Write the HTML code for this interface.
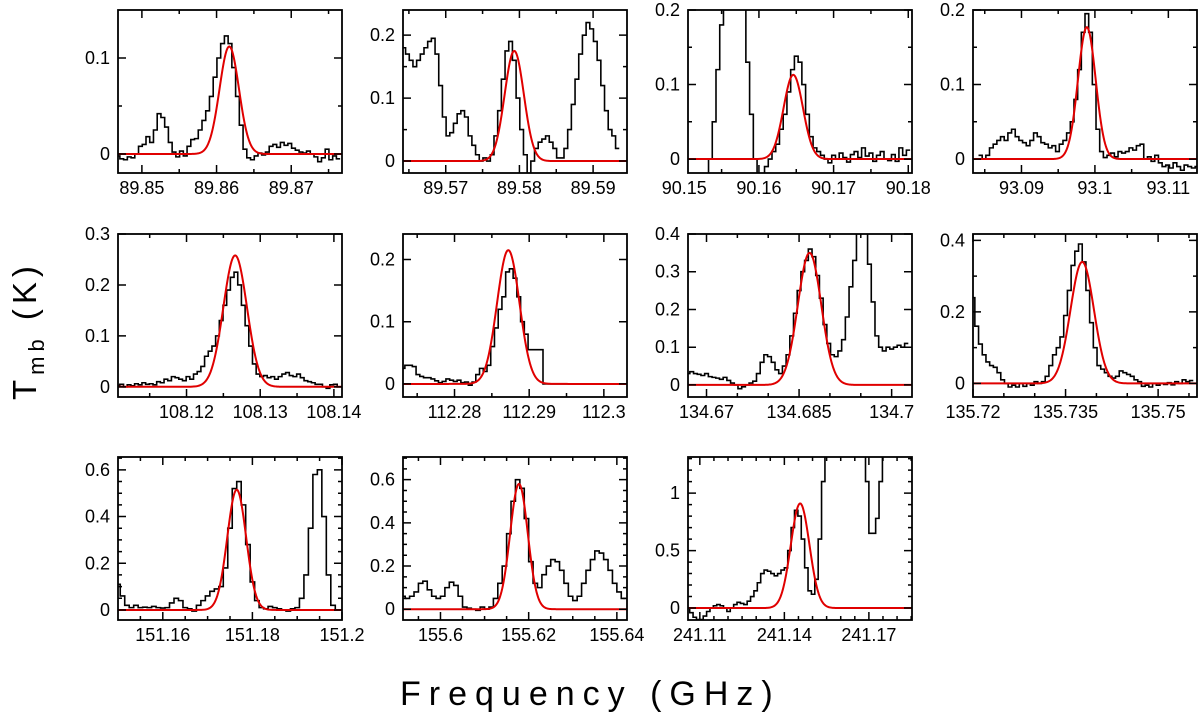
<!DOCTYPE html>
<html><head><meta charset="utf-8">
<style>
html,body{margin:0;padding:0;background:#fff;}
svg{display:block;font-family:"Liberation Sans","DejaVu Sans",sans-serif;}
</style></head>
<body>
<svg id="chart" width="1200" height="718" viewBox="0 0 1200 718" xmlns="http://www.w3.org/2000/svg">
<text x="400" y="705" font-size="34" letter-spacing="8">Frequency (GHz)</text>
<g transform="translate(36,400) rotate(-90)">
<text x="0" y="0" font-size="33" letter-spacing="5">T<tspan font-size="22" dy="8">mb</tspan><tspan dy="-8"> (K)</tspan></text>
</g>
</svg>
<script>
// ---- data (frequency axis start, channel width, intensities in K) ----
const specStart = [89.8468, 89.5643, 90.1505, 93.0844, 108.1107, 112.2731, 134.6670, 135.7200, 151.1500, 155.5915, 241.1058];
const specStep  = [0.0005, 0.0005, 0.0005, 0.0005, 0.0005, 0.0005, 0.0006, 0.0006, 0.001, 0.001, 0.0012];
const specA = [-0.002,-0.005,-0.006,-0.003,-0.004,0.0,0.008,0.010,0.018,0.012,0.025,0.042,0.038,0.028,0.012,0.002,-0.003,0.003,-0.002,0.008,0.015,0.016,0.025,0.035,0.045,0.060,0.080,0.100,0.115,0.123,0.115,0.090,0.060,0.030,0.005,-0.004,-0.006,-0.002,0.001,-0.001,0.002,0.008,0.010,0.007,0.012,0.009,0.011,0.006,0.004,0.002,0.001,0.003,0.0,-0.003,-0.008,-0.004,0.005,-0.006,-0.002,-0.005];
const specB = [0.18,0.17,0.16,0.15,0.16,0.17,0.18,0.19,0.195,0.17,0.12,0.07,0.04,0.045,0.06,0.075,0.08,0.07,0.04,0.025,0.01,0.0,0.005,0.0,0.01,0.04,0.08,0.13,0.175,0.19,0.16,0.10,0.05,0.01,-0.02,0.0,0.02,0.03,0.035,0.04,0.03,0.02,0.005,0.005,0.02,0.05,0.09,0.13,0.17,0.20,0.22,0.21,0.19,0.16,0.12,0.08,0.05,0.04,0.02];
const specC = [-0.03,-0.03,-0.03,-0.03,-0.03,-0.03,0.0,0.05,0.12,0.18,0.22,0.3,0.3,0.3,0.3,0.22,0.13,0.06,0.0,-0.02,-0.02,-0.01,0.0,0.01,0.02,0.04,0.06,0.09,0.12,0.138,0.13,0.10,0.06,0.03,0.015,0.01,0.005,0.0,-0.005,0.005,0.0,0.008,0.002,-0.004,0.006,0.01,0.002,0.015,0.004,0.008,-0.003,0.005,0.01,0.0,-0.002,0.006,-0.003,0.015,0.005,0.012];
const specD = [0.005,0.0,0.005,0.015,0.02,0.025,0.03,0.025,0.035,0.04,0.03,0.025,0.022,0.018,0.025,0.035,0.03,0.022,0.02,0.015,0.018,0.01,0.02,0.025,0.035,0.05,0.08,0.12,0.17,0.195,0.17,0.10,0.04,0.01,0.002,0.005,0.008,0.003,0.01,0.008,0.01,0.015,0.012,0.018,0.02,0.0,0.003,-0.003,0.005,-0.005,-0.01,-0.008,-0.012,-0.005,-0.01,-0.015,-0.008,-0.01,-0.012,-0.01];
const specE = [0.003,0.005,0.0,0.004,0.002,0.006,0.004,0.008,0.005,0.006,0.004,0.01,0.008,0.015,0.012,0.02,0.018,0.015,0.012,0.02,0.015,0.025,0.03,0.04,0.06,0.07,0.08,0.10,0.13,0.16,0.19,0.215,0.225,0.2,0.16,0.12,0.08,0.045,0.025,0.02,0.022,0.018,0.02,0.015,0.02,0.025,0.028,0.022,0.02,0.025,0.018,0.012,0.01,0.008,0.005,0.005,0.0,-0.003,0.004,0.005,0.0];
const specF = [0.025,0.03,0.03,0.028,0.015,0.012,0.01,0.01,0.008,0.005,0.002,0.004,0.008,0.006,0.004,0.006,0.002,0.003,-0.002,0.003,0.015,0.025,0.02,0.03,0.06,0.09,0.12,0.14,0.18,0.185,0.17,0.14,0.10,0.08,0.055,0.055,0.055,0.055,0,0,0,0,0,0,0,0,0,0,0,0,0,0,0,0,0,0,0,0,0,0];
const specG = [0.03,0.035,0.03,0.028,0.025,0.03,0.022,0.02,0.018,0.015,0.02,0.012,0.005,0.0,-0.01,-0.005,0.0,0.005,0.01,0.03,0.06,0.08,0.075,0.06,0.04,0.03,0.05,0.08,0.13,0.19,0.25,0.30,0.33,0.36,0.34,0.29,0.23,0.16,0.11,0.08,0.075,0.09,0.12,0.18,0.26,0.33,0.42,0.45,0.42,0.32,0.22,0.13,0.10,0.09,0.1,0.095,0.10,0.105,0.1,0.11];
const specH = [0.24,0.16,0.11,0.08,0.06,0.05,0.045,0.03,0.01,0.0,-0.01,-0.005,-0.01,0.0,-0.008,0.0,-0.005,0.005,0.0,0.005,0.02,0.05,0.08,0.10,0.13,0.19,0.26,0.33,0.37,0.39,0.34,0.26,0.17,0.10,0.05,0.04,0.03,0.02,0.015,0.02,0.035,0.03,0.025,0.02,0.01,0.005,-0.008,-0.005,-0.01,0.0,-0.005,0.0,-0.003,0.002,-0.004,0.005,0.0,0.01,0.005,0.008];
const specI = [0.11,0.06,0.02,0.01,0.02,0.01,0.012,0.01,0.015,0.01,0.008,0.01,0.03,0.05,0.04,0.01,0.005,-0.005,0.02,0.04,0.06,0.08,0.09,0.10,0.18,0.35,0.52,0.55,0.45,0.28,0.12,0.04,0.01,0.005,0.015,0.01,0.005,0.0,-0.005,0.005,0.01,0.05,0.15,0.35,0.58,0.6,0.4,0.15,0.02,0.0];
const specJ = [0.06,0.05,0.06,0.08,0.12,0.13,0.09,0.06,0.05,0.06,0.1,0.125,0.11,0.06,0.01,0.005,0.0,-0.005,0.01,0.0,0.01,0.05,0.12,0.2,0.35,0.5,0.6,0.56,0.42,0.22,0.12,0.1,0.16,0.2,0.23,0.22,0.18,0.12,0.06,0.04,0.06,0.12,0.18,0.23,0.27,0.26,0.23,0.18,0.12,0.08,0.05];
const specK = [0.0,-0.04,-0.08,-0.1,-0.1,-0.07,-0.03,0.0,0.02,0.03,0.02,0.0,-0.03,0.0,0.03,0.05,0.04,0.03,0.06,0.1,0.15,0.22,0.3,0.33,0.32,0.3,0.28,0.3,0.33,0.35,0.5,0.7,0.85,0.8,0.6,0.35,0.15,0.12,0.25,0.6,1.1,1.6,1.6,1.6,1.6,1.6,1.6,1.6,1.6,1.6,1.6,1.6,1.6,1.1,0.65,0.65,0.78,1.1,1.6,1.6,1.6,1.6,1.6,1.6,1.6,1.6];
// gaussian fit parameters: amplitude (K), centre (GHz), sigma (GHz)
const fitAmp   = [0.112, 0.175, 0.113, 0.177, 0.258, 0.215, 0.35, 0.34, 0.515, 0.58, 0.91];
const fitCen   = [89.8617, 89.5793, 90.1646, 93.0989, 108.1266, 112.2872, 134.6867, 135.7377, 151.1765, 155.6178, 241.1456];
const fitSigma = [0.0013, 0.0013, 0.0013, 0.0012, 0.0016, 0.0015, 0.0019, 0.0019, 0.0021, 0.002, 0.0033];
// axis ranges
const xMin = [89.8468, 89.5642, 90.1505, 93.0834, 108.1107, 112.2731, 134.667, 135.72, 151.15, 155.5915, 241.1058];
const xMax = [89.8768, 89.5946, 90.1805, 93.1139, 108.1411, 112.3031, 134.7033, 135.7563, 151.2, 155.6423, 241.1853];
const yMin = [-0.0198, -0.019, -0.0187, -0.0187, -0.02, -0.021, -0.032, -0.038, -0.043, -0.05, -0.104];
const yMax = [0.15, 0.24, 0.2, 0.2, 0.3, 0.241, 0.4, 0.418, 0.655, 0.705, 1.314];
// tick labels
const xTickVals = [[89.85,89.86,89.87],[89.57,89.58,89.59],[90.15,90.16,90.17,90.18],[93.09,93.1,93.11],[108.12,108.13,108.14],[112.28,112.29,112.3],[134.67,134.685,134.7],[135.72,135.735,135.75],[151.16,151.18,151.2],[155.6,155.62,155.64],[241.11,241.14,241.17]];
const xTickLabels = [["89.85","89.86","89.87"],["89.57","89.58","89.59"],["90.15","90.16","90.17","90.18"],["93.09","93.1","93.11"],["108.12","108.13","108.14"],["112.28","112.29","112.3"],["134.67","134.685","134.7"],["135.72","135.735","135.75"],["151.16","151.18","151.2"],["155.6","155.62","155.64"],["241.11","241.14","241.17"]];
const xMinorStep = [0.005,0.005,0.005,0.005,0.005,0.005,0.005,0.005,0.005,0.005,0.005];
const yTickVals = [[0,0.1],[0,0.1,0.2],[0,0.1,0.2],[0,0.1,0.2],[0,0.1,0.2,0.3],[0,0.1,0.2],[0,0.1,0.2,0.3,0.4],[0,0.2,0.4],[0,0.2,0.4,0.6],[0,0.2,0.4,0.6],[0,0.5,1]];
const yTickLabels = [["0","0.1"],["0","0.1","0.2"],["0","0.1","0.2"],["0","0.1","0.2"],["0","0.1","0.2","0.3"],["0","0.1","0.2"],["0","0.1","0.2","0.3","0.4"],["0","0.2","0.4"],["0","0.2","0.4","0.6"],["0","0.2","0.4","0.6"],["0","0.5","1"]];
const yMinorStep = [0.05,0.05,0.05,0.05,0,0,0,0.1,0.05,0.05,0.1];
const panelNames = ["89.86","89.58","90.16","93.10","108.13","112.29","134.685","135.735","151.18","155.62","241.14"];

// ---- layout (not data) ----
const specs = [specA,specB,specC,specD,specE,specF,specG,specH,specI,specJ,specK];
const colX = [118, 403, 688, 973];
const rowY = [10, 234, 457];
const PW = 224, PH = 163;
const NS = "http://www.w3.org/2000/svg";
const svg = document.getElementById('chart');
function mk(tag, attrs, parent){ const e=document.createElementNS(NS,tag); for(const k in attrs) e.setAttribute(k,attrs[k]); parent.appendChild(e); return e; }

for (let p=0; p<11; p++){
  const L = colX[p%4], T = rowY[Math.floor(p/4)], R = L+PW, B = T+PH;
  const sx = v => L + (v - xMin[p]) / (xMax[p]-xMin[p]) * PW;
  const sy = v => B - (v - yMin[p]) / (yMax[p]-yMin[p]) * PH;
  const g = mk('g', {}, svg);
  
  
  const clip = mk('clipPath', {id:'clip'+p}, g);
  mk('rect', {x:L, y:T, width:PW, height:PH}, clip);
  const s = specs[p];
  let d = '';
  for (let i=0;i<s.length;i++){
    const x0 = sx(specStart[p] + (i-0.5)*specStep[p]), x1 = sx(specStart[p] + (i+0.5)*specStep[p]);
    const y = sy(s[i]);
    d += (i===0 ? 'M' : 'L') + x0.toFixed(2)+','+y.toFixed(2) + 'L'+x1.toFixed(2)+','+y.toFixed(2);
  }
  const sp = mk('path', {d:d, fill:'none', stroke:'#000', 'stroke-width':1.6, 'clip-path':'url(#clip'+p+')'}, g);
  
  
  let fd = '';
  for (let k=0;k<=300;k++){
    const f = xMin[p] + (xMax[p]-xMin[p])*k/300;
    const v = fitAmp[p]*Math.exp(-0.5*Math.pow((f-fitCen[p])/fitSigma[p],2));
    fd += (k===0?'M':'L') + sx(f).toFixed(2) + ',' + sy(v).toFixed(2);
  }
  const fp = mk('path', {d:fd, fill:'none', stroke:'#e00000', 'stroke-width':2, 'clip-path':'url(#clip'+p+')'}, g);
  
  
  let td = '';
  const xs = xTickVals[p];
  for (const v of xs){ const x=sx(v); if(x<L-0.5||x>R+0.5) continue; td += `M${x},${B}v-8M${x},${T}v8`; }
  if (xMinorStep[p]>0){
    const st = xMinorStep[p];
    for (let v=Math.ceil(xMin[p]/st)*st; v<=xMax[p]+1e-9; v+=st){ const x=sx(v); if(x<L+0.5||x>R-0.5) continue; td += `M${x},${B}v-4M${x},${T}v4`; }
  }
  for (const v of yTickVals[p]){ const y=sy(v); if(y<T-0.5||y>B+0.5) continue; td += `M${L},${y}h8M${R},${y}h-8`; }
  if (yMinorStep[p]>0){
    const st = yMinorStep[p];
    for (let v=Math.ceil(yMin[p]/st)*st; v<=yMax[p]+1e-9; v+=st){ const y=sy(v); if(y<T+0.5||y>B-0.5) continue; td += `M${L},${y}h4M${R},${y}h-4`; }
  }
  mk('path', {d:td, fill:'none', stroke:'#000', 'stroke-width':1.5}, g);
  const fr = mk('rect', {x:L, y:T, width:PW, height:PH, fill:'none', stroke:'#000', 'stroke-width':1.8}, g);
  
  
  xs.forEach((v,i)=>{
    const t = mk('text', {x:sx(v), y:B+21, 'font-size':18, 'text-anchor':'middle'}, g);
    
    
    t.textContent = xTickLabels[p][i];
  });
  yTickVals[p].forEach((v,i)=>{
    const y = sy(v); if (y<T-2) return;
    const t = mk('text', {x:L-8, y:Math.max(y+6, T+6), 'font-size':18, 'text-anchor':'end'}, g);
    
    
    t.textContent = yTickLabels[p][i];
  });
}
</script>
</body></html>
